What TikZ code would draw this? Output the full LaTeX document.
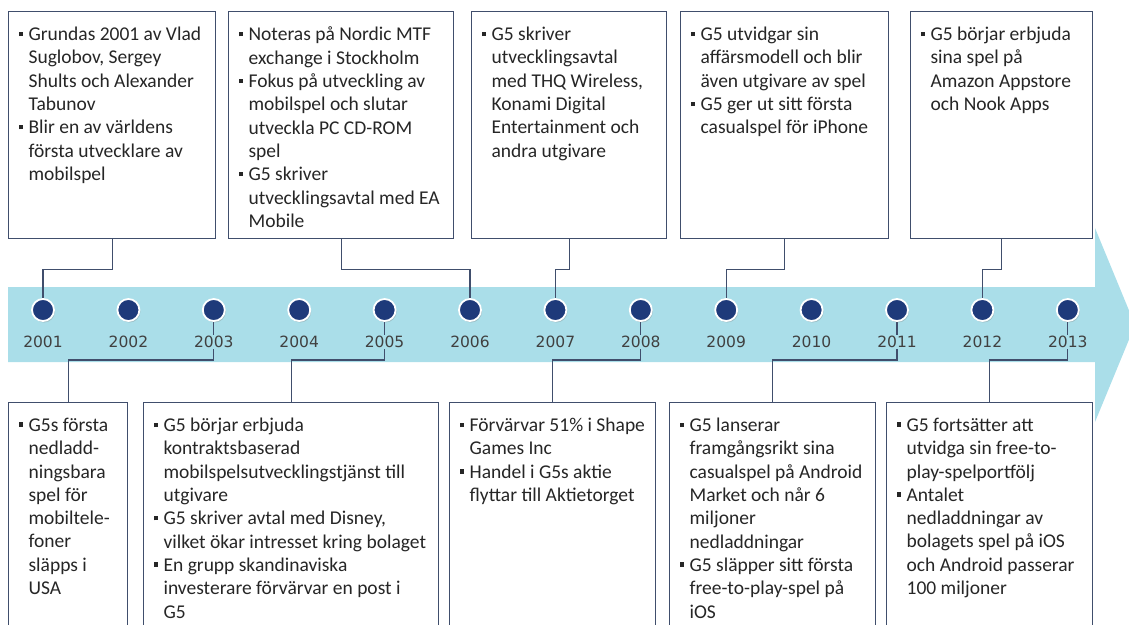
\documentclass[tikz,border=0pt]{standalone}
\usepackage{fontspec}
\setmainfont{Carlito}
\newfontfamily\yearfont{DejaVu Sans}
\usepackage{tikz}
\usetikzlibrary{backgrounds,shadows}

\definecolor{bandcol}{RGB}{170,222,233}
\definecolor{framecol}{RGB}{64,78,108}
\definecolor{dotcol}{RGB}{30,58,122}

% one bullet point, continuation lines hang under the text
\newcommand{\itm}{\par\hangindent=10pt\hangafter=1\noindent
  \makebox[10pt][l]{\raisebox{4.5pt}{\rule{4.5pt}{4.5pt}}}\rule{0pt}{13pt}}
% text block of a box: width, height, items
\newcommand{\evt}[3]{\parbox[t][#2][t]{#1}{\raggedright\hyphenpenalty=10000
  \fontsize{19.5}{23.3}\selectfont\color{black!85}\vspace*{15.5pt}#3}}

\begin{document}
\begin{tikzpicture}[x=1pt,y=-1pt,
  event/.style={draw=framecol,line width=1.2pt,fill=white,inner xsep=10pt,inner ysep=0pt,anchor=north west},
  dot/.style={circle,fill=dotcol,draw=white,line width=1.8pt,minimum size=22pt,inner sep=0pt,
    drop shadow={opacity=.35,shadow xshift=1pt,shadow yshift=-1.5pt}},
  yearlab/.style={fill=bandcol,inner sep=1pt,text=black!75,font=\yearfont\fontsize{15.5}{17}\selectfont},
  link/.style={draw=framecol,line width=1.2pt}]
\useasboundingbox (0,0) rectangle (1129,624);

% years on the band
\foreach \yr [count=\i from 0] in {2001,...,2013} {
  \node[dot] (c\yr) at (43+85.4*\i,310) {};
  \node[yearlab] (y\yr) at (43+85.4*\i,342) {\yr};
}

% boxes above
\node[event] (t1) at (8,11) {\evt{187pt}{227pt}{%
  \itm Grundas 2001 av Vlad\newline Suglobov, Sergey\newline Shults och Alexander\newline Tabunov
  \itm Blir en av världens\newline första utvecklare av\newline mobilspel}};
\node[event] (t2) at (228,11) {\evt{205pt}{227pt}{%
  \itm Noteras på Nordic MTF\newline exchange i Stockholm
  \itm Fokus på utveckling av\newline mobilspel och slutar\newline utveckla PC CD-ROM\newline spel
  \itm G5 skriver\newline utvecklingsavtal med EA\newline Mobile}};
\node[event] (t3) at (471,11) {\evt{175pt}{227pt}{%
  \itm G5 skriver\newline utvecklingsavtal\newline med THQ Wireless,\newline Konami Digital\newline Entertainment och\newline andra utgivare}};
\node[event] (t4) at (680,11) {\evt{188pt}{227pt}{%
  \itm G5 utvidgar sin\newline affärsmodell och blir\newline även utgivare av spel
  \itm G5 ger ut sitt första\newline casualspel för iPhone}};
\node[event] (t5) at (910,11) {\evt{162pt}{227pt}{%
  \itm G5 börjar erbjuda\newline sina spel på\newline Amazon Appstore\newline och Nook Apps}};

% boxes below
\node[event] (b1) at (8,402) {\evt{99pt}{240pt}{%
  \itm G5s första\newline nedladd-\newline ningsbara\newline spel för\newline mobiltele-\newline foner\newline släpps i\newline USA}};
\node[event] (b2) at (143,402) {\evt{275pt}{240pt}{%
  \itm G5 börjar erbjuda\newline kontraktsbaserad\newline mobilspelsutvecklingstjänst till\newline utgivare
  \itm G5 skriver avtal med Disney,\newline vilket ökar intresset kring bolaget
  \itm En grupp skandinaviska\newline investerare förvärvar en post i\newline G5}};
\node[event] (b3) at (449,402) {\evt{186pt}{240pt}{%
  \itm Förvärvar 51\% i Shape\newline Games Inc
  \itm Handel i G5s aktie\newline flyttar till Aktietorget}};
\node[event] (b4) at (669,402) {\evt{186pt}{240pt}{%
  \itm G5 lanserar\newline framgångsrikt sina\newline casualspel på Android\newline Market och når 6\newline miljoner\newline nedladdningar
  \itm G5 släpper sitt första\newline free-to-play-spel på\newline iOS}};
\node[event] (b5) at (886,402) {\evt{186pt}{240pt}{%
  \itm G5 fortsätter att\newline utvidga sin free-to-\newline play-spelportfölj
  \itm Antalet\newline nedladdningar av\newline bolagets spel på iOS\newline och Android passerar\newline 100 miljoner}};

\begin{scope}[on background layer]
% the arrow band
\fill[bandcol] (8,287) -- (1095,287) -- (1095,228) -- (1135,325) -- (1095,422)
  -- (1095,362) -- (8,362) -- cycle;
% connectors
\draw[link] (t1.south) -- ++(0,30) -| (c2001);
\draw[link] (t2.south) -- ++(0,30) -| (c2006);
\draw[link] (t3.south) -- ++(0,30) -| (c2007);
\draw[link] (t4.south) -- ++(0,30) -| (c2009);
\draw[link] (t5.south) -- ++(0,30) -| (c2012);
\draw[link] (b1.north) -- ++(0,-42) -| (c2003);
\draw[link] (b2.north) -- ++(0,-42) -| (c2005);
\draw[link] (b3.north) -- ++(0,-42) -| (c2008);
\draw[link] (b4.north) -- ++(0,-42) -| (c2011);
\draw[link] (b5.north) -- ++(0,-42) -| (c2013);
\end{scope}
\end{tikzpicture}
\end{document}
